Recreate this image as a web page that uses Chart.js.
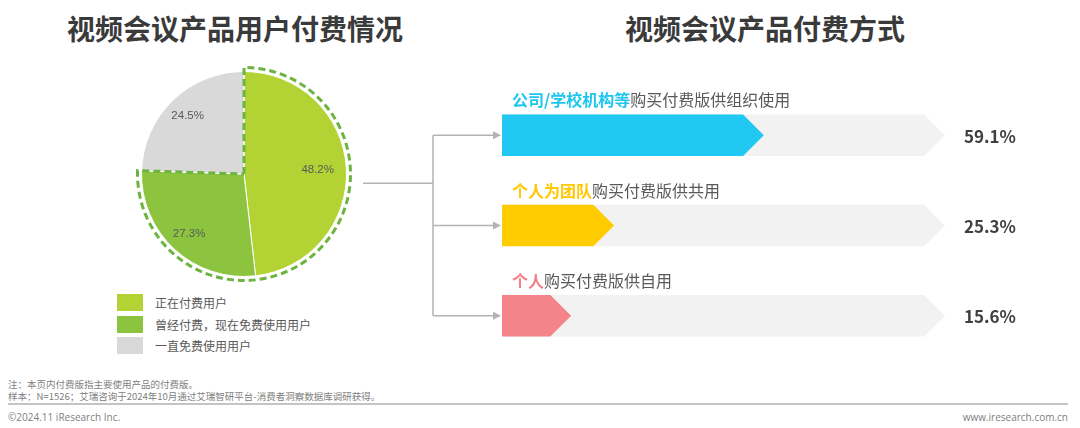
<!DOCTYPE html>
<html>
<head>
<meta charset="utf-8">
<script src="https://cdn.jsdelivr.net/npm/chart.js@4"></script>
<style>
  html, body { margin: 0; padding: 0; background: #fff; }
  body { width: 1080px; height: 428px; position: relative; overflow: hidden; font-family: "Noto Sans CJK SC", sans-serif; }
  .title { position: absolute; top: 6px; font-size: 28px; font-weight: bold; color: #3a3a3a; text-align: center; line-height: 44px; }
  #pieBox { position: absolute; left: 128px; top: 58px; width: 232px; height: 232px; }
  #barBox { position: absolute; left: 340px; top: 60px; width: 740px; height: 320px; }
  #legend { position: absolute; left: 117px; top: 292px; }
  .lg { display: flex; align-items: center; height: 21.5px; font-size: 12px; color: #595959; }
  .lg span.sw { width: 26px; height: 17px; margin-right: 12px; }
  .note { position: absolute; left: 8px; font-size: 9.5px; color: #808080; white-space: nowrap; }
  #rule { position: absolute; left: 8px; top: 403px; width: 1060px; height: 2px; background: #c4c4c4; }
  .foot { position: absolute; top: 410px; font-size: 10px; color: #808080; font-family: "Open Sans", sans-serif; }
</style>
</head>
<body>
<div class="title" style="left:40px;width:390px;">视频会议产品用户付费情况</div>
<div class="title" style="left:570px;width:390px;">视频会议产品付费方式</div>

<div id="pieBox"><canvas id="pie"></canvas></div>
<div id="legend"></div>
<div id="barBox"><canvas id="bars"></canvas></div>

<div class="note" style="top:377px;">注：本页内付费版指主要使用产品的付费版。</div>
<div class="note" style="top:389px;">样本：N=1526；艾瑞咨询于2024年10月通过艾瑞智研平台-消费者洞察数据库调研获得。</div>
<div id="rule"></div>
<div class="foot" style="left:8px;">©2024.11 iResearch Inc.</div>
<div class="foot" style="right:12px;">www.iresearch.com.cn</div>

<script>
// pie: user payment status
const pieLabels = ['正在付费用户', '曾经付费，现在免费使用用户', '一直免费使用用户'];
const pieValues = [48.2, 27.3, 24.5];
const pieColors = ['#b3d335', '#8cc43f', '#d9d9d9'];

// bars: payment method
const payLeads = ['公司/学校机构等', '个人为团队', '个人'];
const payRests = ['购买付费版供组织使用', '购买付费版供共用', '购买付费版供自用'];
const payValues = [59.1, 25.3, 15.6];
const payFull = [100, 100, 100];
const payColors = ['#21c8f2', '#ffcc00', '#f4848a'];
const leadColors = ['#1ec6ef', '#ffc800', '#f0818a'];

// legend
const legend = document.getElementById('legend');
pieLabels.forEach((lab, i) => {
    const row = document.createElement('div');
    row.className = 'lg';
    row.innerHTML = '<span class="sw" style="background:' + pieColors[i] + '"></span>' + lab;
    legend.appendChild(row);
});

const pieExtras = {
    id: 'pieExtras',
    afterDatasetsDraw(chart) {
        const ctx = chart.ctx;
        const arcs = chart.getDatasetMeta(0).data;
        const a0 = arcs[0], a1 = arcs[1];
        const cx = a0.x, cy = a0.y, r2 = a0.outerRadius + 4;

        // dashed outline around the "paid at some point" slices
        ctx.save();
        ctx.strokeStyle = '#6db33f';
        ctx.lineWidth = 3;
        ctx.setLineDash([7, 4]);
        ctx.beginPath();
        ctx.moveTo(cx, cy);
        ctx.lineTo(cx + r2 * Math.cos(a0.startAngle), cy + r2 * Math.sin(a0.startAngle));
        ctx.arc(cx, cy, r2, a0.startAngle, a1.endAngle);
        ctx.lineTo(cx, cy);
        ctx.stroke();
        ctx.restore();

        // percent labels
        ctx.save();
        ctx.font = '11.5px "Liberation Sans", Arial, sans-serif';
        ctx.fillStyle = '#595959';
        ctx.textAlign = 'center';
        ctx.textBaseline = 'middle';
        arcs.forEach((arc, i) => {
            const mid = (arc.startAngle + arc.endAngle) / 2;
            const d = arc.outerRadius * (i === 0 ? 0.72 : 0.79);
            ctx.fillText(pieValues[i].toFixed(1) + '%', cx + d * Math.cos(mid), cy + d * Math.sin(mid));
        });
        ctx.restore();
    }
};

new Chart(document.getElementById('pie'), {
    type: 'pie',
    data: {
        labels: pieLabels,
        datasets: [{
            data: pieValues,
            backgroundColor: pieColors,
            borderColor: '#ffffff',
            borderWidth: 1
        }]
    },
    options: {
        responsive: true,
        maintainAspectRatio: false,
        animation: false,
        layout: { padding: 13 },
        plugins: { legend: { display: false }, tooltip: { enabled: false } }
    },
    plugins: [pieExtras]
});

const arrowBars = {
    id: 'arrowBars',
    afterDatasetsDraw(chart) {
        const ctx = chart.ctx;
        const area = chart.chartArea;

        // arrow shaped bars, gray track first then the value
        chart.data.datasets.forEach((ds, di) => {
            chart.getDatasetMeta(di).data.forEach((bar, i) => {
                const p = bar.getProps(['x', 'y', 'base', 'height'], true);
                const h = p.height / 2;
                ctx.fillStyle = di === 0 ? '#f2f2f2' : payColors[i];
                ctx.beginPath();
                ctx.moveTo(p.base, p.y - h);
                ctx.lineTo(p.x - h, p.y - h);
                ctx.lineTo(p.x, p.y);
                ctx.lineTo(p.x - h, p.y + h);
                ctx.lineTo(p.base, p.y + h);
                ctx.closePath();
                ctx.fill();
            });
        });

        const bars = chart.getDatasetMeta(1).data.map(b => b.getProps(['x', 'y', 'height'], true));

        // connector lines from the pie
        const trunkX = area.left - 69;
        ctx.save();
        ctx.strokeStyle = '#b3b3b3';
        ctx.fillStyle = '#b3b3b3';
        ctx.lineWidth = 1.5;
        ctx.beginPath();
        ctx.moveTo(area.left - 139, bars[0].y + 48);
        ctx.lineTo(trunkX, bars[0].y + 48);
        ctx.moveTo(trunkX, bars[0].y);
        ctx.lineTo(trunkX, bars[bars.length - 1].y);
        bars.forEach(b => {
            ctx.moveTo(trunkX, b.y);
            ctx.lineTo(area.left - 8, b.y);
        });
        ctx.stroke();
        bars.forEach(b => {
            ctx.beginPath();
            ctx.moveTo(area.left - 1, b.y);
            ctx.lineTo(area.left - 9, b.y - 4);
            ctx.lineTo(area.left - 9, b.y + 4);
            ctx.closePath();
            ctx.fill();
        });
        ctx.restore();

        // category labels and values
        ctx.save();
        ctx.textBaseline = 'middle';
        bars.forEach((b, i) => {
            const ty = b.y - b.height / 2 - 14;
            let tx = area.left + 10;
            ctx.textAlign = 'left';
            ctx.font = 'bold 16px "Noto Sans CJK SC", sans-serif';
            ctx.fillStyle = leadColors[i];
            ctx.fillText(payLeads[i], tx, ty);
            tx += ctx.measureText(payLeads[i]).width;
            ctx.font = '16px "Noto Sans CJK SC", sans-serif';
            ctx.fillStyle = '#595959';
            ctx.fillText(payRests[i], tx, ty);

            ctx.textAlign = 'center';
            ctx.font = 'bold 17px "Noto Sans CJK SC", sans-serif';
            ctx.fillStyle = '#404040';
            ctx.fillText(payValues[i].toFixed(1) + '%', area.right + 45, b.y + 1);
        });
        ctx.restore();
    }
};

new Chart(document.getElementById('bars'), {
    type: 'bar',
    data: {
        labels: payLeads.map((l, i) => l + payRests[i]),
        datasets: [
            { data: payFull, backgroundColor: 'rgba(0,0,0,0)', grouped: false },
            { data: payValues, backgroundColor: 'rgba(0,0,0,0)', grouped: false }
        ]
    },
    options: {
        indexAxis: 'y',
        responsive: true,
        maintainAspectRatio: false,
        animation: false,
        layout: { padding: { left: 162, right: 135, top: 30, bottom: 19 } },
        datasets: { bar: { categoryPercentage: 1, barPercentage: 0.46 } },
        scales: {
            x: { display: false, min: 0, max: 100 },
            y: { display: false }
        },
        plugins: { legend: { display: false }, tooltip: { enabled: false } }
    },
    plugins: [arrowBars]
});
</script>
</body>
</html>
